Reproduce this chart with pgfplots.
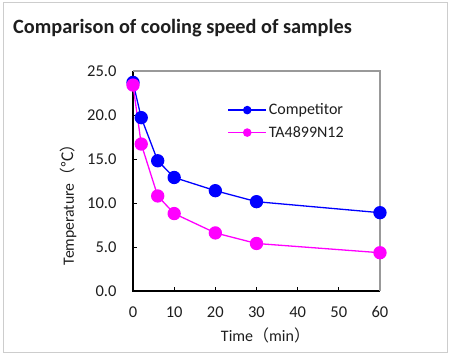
\documentclass[border=0pt]{standalone}
\usepackage{pgfplots}
\pgfplotsset{compat=1.18}
\usepackage{fontspec}
\setmainfont{Carlito}
\newfontfamily\cjk{Noto Sans CJK SC}
\definecolor{frame}{RGB}{205,205,205}
\definecolor{titlec}{RGB}{30,30,30}
\definecolor{mblue}{RGB}{0,0,255}
\definecolor{mmag}{RGB}{255,0,255}
\begin{document}
\begin{tikzpicture}
\useasboundingbox (0pt,0pt) rectangle (450pt,357pt);
\fill[white] (0pt,0pt) rectangle (450pt,357pt);
\draw[frame, line width=1pt] (3pt,5pt) rectangle (447pt,354pt);
\node[anchor=base west, inner sep=0pt, text=titlec, font=\fontsize{20.3}{24}\selectfont\bfseries] at (13pt,323pt) {Comparison of cooling speed of samples};
\begin{axis}[
  at={(133pt,66pt)}, anchor=south west,
  scale only axis, width=247pt, height=220pt,
  xmin=0, xmax=60, ymin=0, ymax=25,
  xtick={0,10,20,30,40,50,60},
  ytick={0,5,10,15,20,25},
  tick align=inside, xtick pos=bottom, ytick pos=left,
  major tick length=4pt,
  tick style={black, line width=1pt},
  axis line style={draw=none},
  ticklabel style={font=\fontsize{16.5}{19}\selectfont, text=titlec},
  /pgf/number format/assume math mode=true,
  yticklabel style={/pgf/number format/fixed, /pgf/number format/fixed zerofill, /pgf/number format/precision=1, xshift=-13pt},
  xticklabel style={yshift=-12pt},
  xlabel={Time{\cjk （}min{\cjk ）}},
  ylabel={Temperature{\cjk （℃）}},
  xlabel style={font=\fontsize{16}{19}\selectfont, text=titlec, yshift=-3pt, xshift=9pt},
  ylabel style={font=\fontsize{15.7}{18}\selectfont, text=titlec, at={(ticklabel cs:0.41)}, yshift=4pt},
  legend style={draw=none, fill=none, at={(rel axis cs:0.37,0.87)}, anchor=north west,
    font=\fontsize{16}{19}\selectfont, text=titlec, row sep=6pt},
  legend cell align=left,
  clip=false,
]
\draw[black, line width=1.5pt] (rel axis cs:0,1) -- (rel axis cs:0,0) -- (rel axis cs:1,0);
\draw[gray!80, line width=1.5pt] (rel axis cs:0,1) -- (rel axis cs:1,1) -- (rel axis cs:1,0);
\addplot[mblue, line width=1.3pt, mark=*, mark size=6pt, mark options={fill=mblue, draw=mblue},
  legend image code/.code={\draw[mblue, line width=1.3pt] (0pt,0pt) -- (38pt,0pt); \fill[mblue] (19pt,0pt) circle (3.6pt);}]
  coordinates {(0,23.7) (2,19.7) (6,14.8) (10,12.9) (20,11.4) (30,10.15) (60,8.9)};
\addlegendentry{Competitor}
\addplot[mmag, line width=1.3pt, mark=*, mark size=6pt, mark options={fill=mmag, draw=mmag},
  legend image code/.code={\draw[mmag, line width=1.3pt] (0pt,0pt) -- (38pt,0pt); \fill[mmag] (19pt,0pt) circle (3.6pt);}]
  coordinates {(0,23.4) (2,16.7) (6,10.8) (10,8.8) (20,6.6) (30,5.4) (60,4.35)};
\addlegendentry{TA4899N12}
\end{axis}
\end{tikzpicture}
\end{document}
